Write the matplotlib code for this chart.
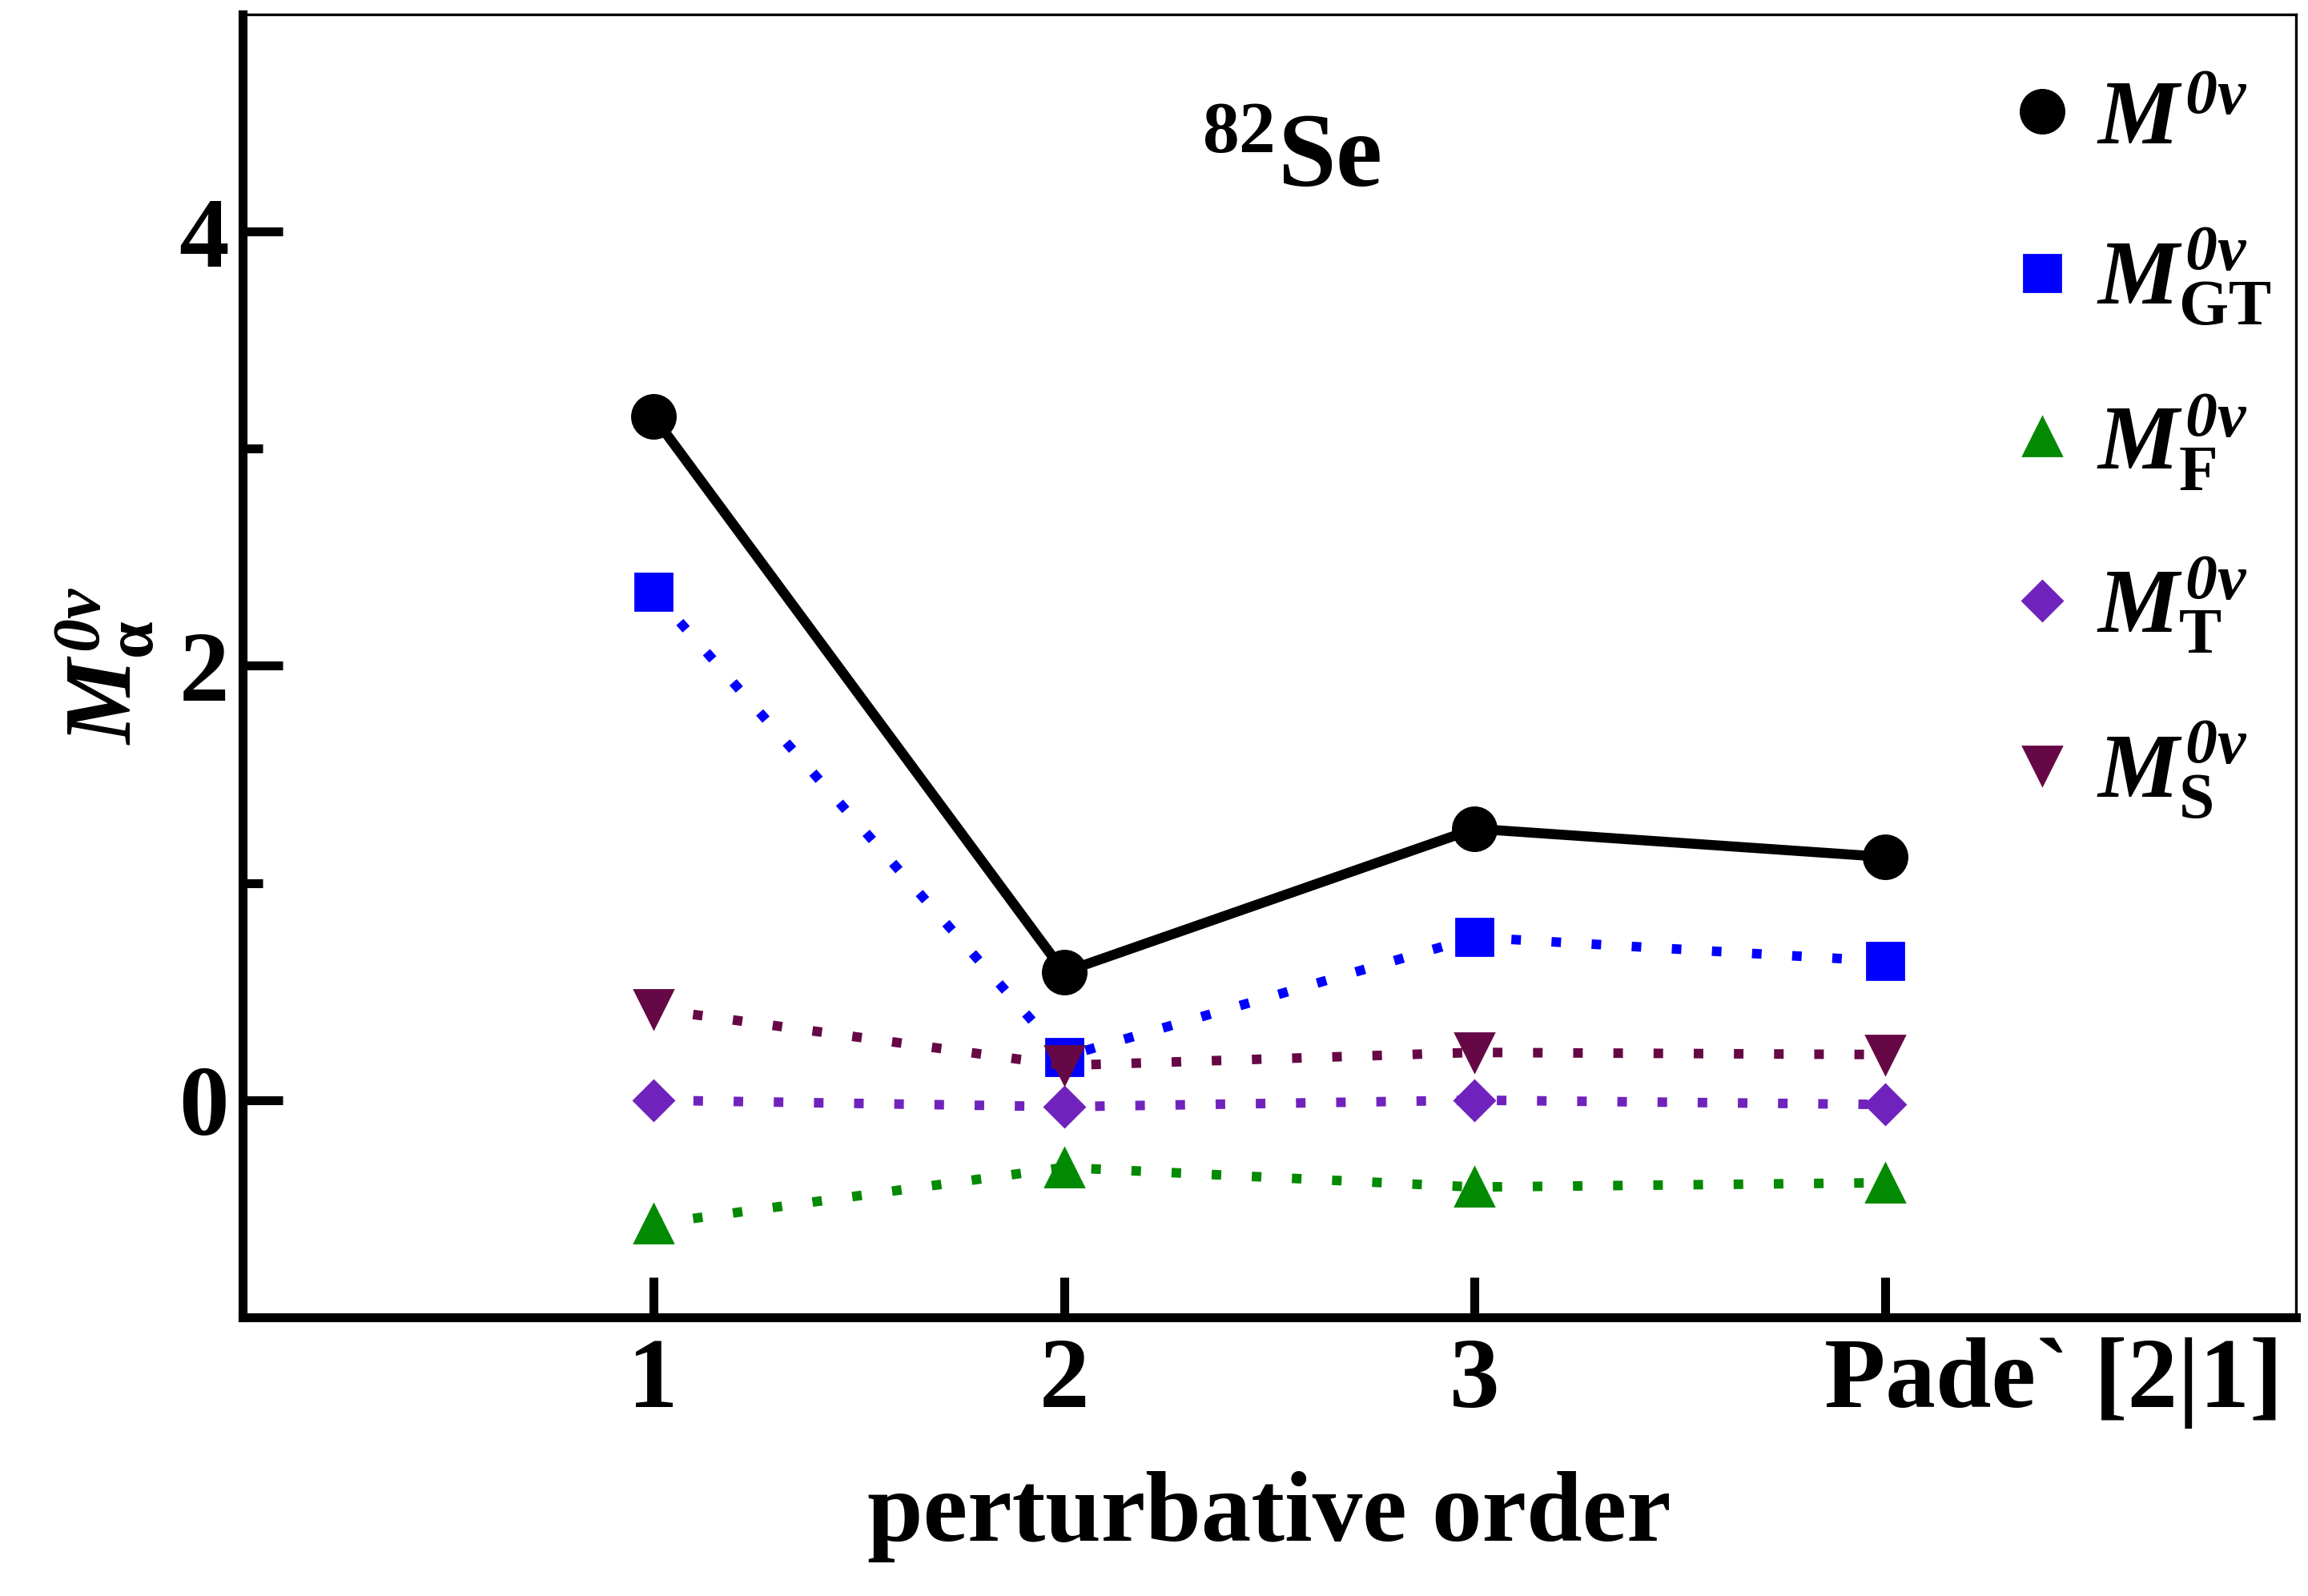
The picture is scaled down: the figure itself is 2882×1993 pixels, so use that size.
import matplotlib
matplotlib.use("Agg")
import matplotlib.pyplot as plt
from matplotlib.lines import Line2D
from matplotlib.transforms import ScaledTranslation

plt.rcParams["font.family"] = "Liberation Serif"
plt.rcParams["font.weight"] = "bold"
plt.rcParams["axes.labelweight"] = "bold"
plt.rcParams["mathtext.fontset"] = "custom"
plt.rcParams["mathtext.rm"] = "Liberation Serif:bold"
plt.rcParams["mathtext.it"] = "Liberation Serif:italic:bold"
plt.rcParams["mathtext.bf"] = "Liberation Serif:bold"
# italic digits (mathtext puts digits from \mathit in the upright font)
plt.rcParams["mathtext.sf"] = "Liberation Serif:italic:bold"

orders = [1, 2, 3, 4]
order_labels = ["1", "2", "3", "Pade` [2|1]"]

m_total = [3.15, 0.59, 1.25, 1.12]
m_gt = [2.34, 0.20, 0.75, 0.64]
m_f = [-0.57, -0.31, -0.40, -0.38]
m_t = [0.00, -0.03, 0.00, -0.02]
m_s = [0.42, 0.16, 0.22, 0.21]

sup = r"^{\mathsf{0}\nu}"
series = [
    (m_total, r"$M" + sup + "$", "black", "o", 19.5, "-"),
    (m_gt, r"$M" + sup + r"_{\mathrm{GT}}$", "#0000ff", "s", 16.5, ":"),
    (m_f, r"$M" + sup + r"_{\mathrm{F}}$", "#028a02", "^", 17, ":"),
    (m_t, r"$M" + sup + r"_{\mathrm{T}}$", "#7023bc", "D", 12.5, ":"),
    (m_s, r"$M" + sup + r"_{\mathrm{S}}$", "#660845", "v", 17, ":"),
]

fig = plt.figure(figsize=(14.41, 9.965), dpi=200)
ax = fig.add_axes([0.1051, 0.1746, 0.8897, 0.8164])

handles = []
for vals, label, color, marker, ms, ls in series:
    if ls == "-":
        ax.plot(orders, vals, color=color, lw=4.5, marker=marker, ms=ms)
    else:
        ax.plot(orders, vals, color=color, lw=4.3, dashes=(1, 3.2),
                marker=marker, ms=ms)
    handles.append(Line2D([], [], ls="none", marker=marker, ms=ms,
                          color=color, label=label))

ax.set_xlim(0, 5)
ax.set_ylim(-1, 5)
ax.set_xticks(orders)
ax.set_xticklabels(order_labels)
ax.set_yticks([0, 2, 4])
ax.set_yticks([1, 3], minor=True)

for side in ["left", "bottom"]:
    ax.spines[side].set_linewidth(4)
for side in ["top", "right"]:
    ax.spines[side].set_linewidth(1.2)

ax.tick_params(axis="both", which="major", direction="in", length=18,
               width=4, labelsize=45, pad=6)
ax.tick_params(axis="x", which="major", pad=9)
ax.tick_params(axis="y", which="minor", direction="in", length=9, width=4)

lbl = ax.get_xticklabels()[3]
lbl.set_transform(lbl.get_transform()
                  + ScaledTranslation(1.05, 0, fig.dpi_scale_trans))

ax.set_xlabel("perturbative order", fontsize=45, labelpad=19)
ax.set_ylabel(r"$M" + sup + r"_{\mathrm{\alpha}}$", fontsize=43,
              labelpad=10)

ax.text(0.5105, 0.868, r"$^{82}\mathrm{Se}$", transform=ax.transAxes,
        fontsize=47, ha="center", va="baseline")

ax.legend(handles=handles, loc="upper left", bbox_to_anchor=(0.854, 0.95),
          frameon=False, fontsize=41, handlelength=1, handletextpad=0.1,
          borderpad=0, borderaxespad=0, labelspacing=0.7)

fig.savefig("out.png", dpi=200)
